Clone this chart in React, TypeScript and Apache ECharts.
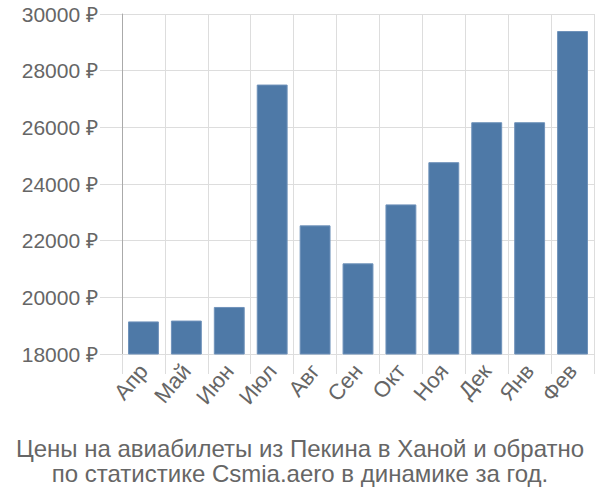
import React, { useEffect, useRef } from "react";
import * as echarts from "echarts";

const categories = ["Апр", "Май", "Июн", "Июл", "Авг", "Сен", "Окт", "Ноя", "Дек", "Янв", "Фев"];
const prices = [19150, 19180, 19660, 27510, 22540, 21200, 23280, 24770, 26180, 26180, 29400];
const yMin = 18000;
const yMax = 30000;
const yStep = 2000;
const titleLines = [
  "Цены на авиабилеты из Пекина в Ханой и обратно",
  "по статистике Csmia.aero в динамике за год.",
];

export default function App() {
  const ref = useRef<HTMLDivElement>(null);
  useEffect(() => {
    if (!ref.current) return;
    document.body.style.margin = "0";
    const chart = echarts.init(ref.current, null, { renderer: "svg" });
    chart.setOption({
      animation: false,
      textStyle: { fontFamily: "Liberation Sans" },
      grid: { left: 122, right: 6, top: 14, bottom: 146 },
      title: {
        text: titleLines.join("\n"),
        left: "center",
        top: 431,
        textStyle: {
          color: "#666",
          fontSize: 24,
          fontWeight: "normal",
          lineHeight: 25,
          fontFamily: "Liberation Sans",
        },
      },
      xAxis: {
        type: "category",
        data: categories,
        axisLine: { lineStyle: { color: "#ddd" } },
        axisTick: { show: true, length: 20, lineStyle: { color: "#ddd" } },
        splitLine: { show: true, lineStyle: { color: "#ddd", width: 1 } },
        axisLabel: {
          rotate: 50,
          color: "#666",
          fontSize: 22,
          margin: 13,
          interval: 0,
          hideOverlap: false,
        },
      },
      yAxis: {
        type: "value",
        min: yMin,
        max: yMax,
        interval: yStep,
        axisLine: { show: true, lineStyle: { color: "#aaa" } },
        axisTick: { show: true, length: 22, lineStyle: { color: "#ddd" } },
        splitLine: { lineStyle: { color: "#ddd" } },
        axisLabel: {
          formatter: (v: number) => v + " ₽",
          color: "#666",
          fontSize: 21,
          margin: 24,
        },
      },
      series: [
        {
          type: "bar",
          data: prices,
          barWidth: "72%",
          itemStyle: { color: "#4e79a7", borderColor: "#6f92ba", borderWidth: 1 },
        },
      ],
    });
    return () => chart.dispose();
  }, []);
  return <div ref={ref} style={{ width: 600, height: 500 }} />;
}
